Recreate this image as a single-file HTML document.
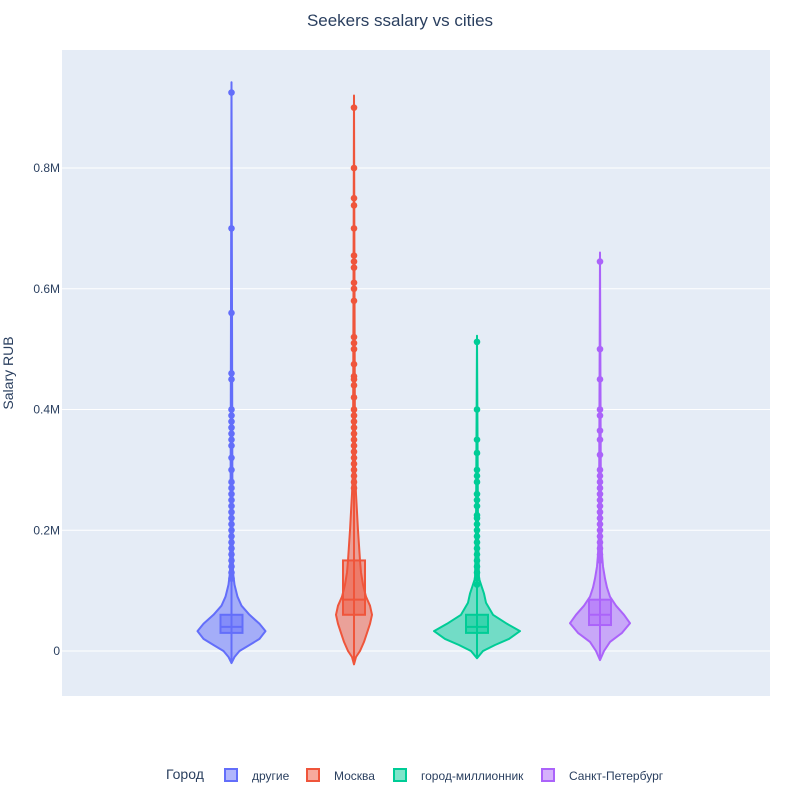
<!DOCTYPE html>
<html><head><meta charset="utf-8"><style>
body{margin:0;background:#fff;font-family:"Liberation Sans","DejaVu Sans",sans-serif}
svg text{font-family:"Liberation Sans","DejaVu Sans",sans-serif}
</style></head><body>
<svg id="chart" width="800" height="800">
<rect x="0" y="0" width="800" height="800" fill="#fff"/>
<rect x="62" y="50" width="708" height="646" fill="#E5ECF6"/>
<text x="400" y="26" text-anchor="middle" font-size="17" fill="#2a3f5f">Seekers ssalary vs cities</text>
<text x="13" y="373" text-anchor="middle" font-size="14" fill="#2a3f5f" transform="rotate(-90 13 373)">Salary RUB</text>
<g id="grid"></g><g id="marks"></g>
<g>
<text x="166" y="779" font-size="14" fill="#2a3f5f">Город</text>
<g id="legend"></g></g>
</svg>
<script>
const categories=["другие","Москва","город-миллионник","Санкт-Петербург"];
const colors=["#636efa","#EF553B","#00cc96","#ab63fa"];
const centers=[231.5,354,477,600];
const yTicks=[0,200,400,600,800];
const yTickLabels=["0","0.2M","0.4M","0.6M","0.8M"];
// quartiles (thousands RUB)
const q1=[30,60,30,43];
const med=[40,85,40,60];
const q3=[60,150,60,85];
const maxV=[942,920,522,660];
// density profile: [value, relative width]
const dens0=[[-20,0],[-10,3],[0,8],[10,18],[20,28],[33,34],[45,28],[60,18],[75,10],[90,6],[110,3],[130,1.5],[200,1],[942,0]];
const dens1=[[-22,0],[-10,2],[0,6],[15,10],[30,13],[45,16],[60,18],[75,16],[90,12],[110,9],[130,7],[150,6],[175,5],[200,4],[230,3],[260,2],[300,1],[920,0]];
const dens2=[[-12,0],[0,6],[10,18],[20,32],[33,43],[45,30],[60,16],[80,9],[95,7],[105,5],[120,2],[200,1],[522,0]];
const dens3=[[-15,0],[0,4],[15,10],[30,22],[46,30],[60,24],[75,16],[90,10],[105,7],[120,5],[140,3],[160,2],[200,1],[660,0]];
const densities=[dens0,dens1,dens2,dens3];
const pts0=[925,700,560,460,450,400,390,380,370,360,350,340,320,300,280,270,260,250,240,230,220,210,200,190,180,170,160,150,140,130,120];
const pts1=[900,800,750,738,700,655,645,635,610,600,580,520,510,500,475,455,450,440,420,400,390,380,370,360,350,340,330,320,310,300,290,280,270];
const pts2=[512,400,350,328,300,290,280,260,250,240,225,220,210,200,190,180,170,160,150,140,130,120,110];
const pts3=[645,500,450,400,390,365,350,325,300,290,280,270,260,250,240,230,220,210,200,190,180,170,160,150];
const points=[pts0,pts1,pts2,pts3];
const y=v=>651-v*(651-168)/800;
const NS="http://www.w3.org/2000/svg";
function mk(tag,attrs,parent){const e=document.createElementNS(NS,tag);for(const k in attrs)e.setAttribute(k,attrs[k]);parent.appendChild(e);return e;}
const grid=document.getElementById("grid"),marks=document.getElementById("marks"),svg=document.getElementById("chart");
yTicks.forEach((t,i)=>{
 const l=mk("line",{x1:62,x2:770,y1:y(t),y2:y(t),stroke:"#fff","stroke-width":1},grid);
 
 
 const tx=mk("text",{x:60,y:y(t)+4,"text-anchor":"end","font-size":12,fill:"#2a3f5f"},grid);
 tx.textContent=yTickLabels[i];
 
 
});
categories.forEach((c,i)=>{
 const g=mk("g",{},marks);
 
 
 const cx=centers[i],col=colors[i],d=densities[i];
 const right=d.map(p=>[cx+p[1],y(p[0])]),left=d.slice().reverse().map(p=>[cx-p[1],y(p[0])]);
 const all=right.concat(left);
 let path="M"+all.map(p=>p[0].toFixed(1)+","+p[1].toFixed(1)).join(" L")+"Z";
 const v=mk("path",{d:path,fill:col,"fill-opacity":0.5,stroke:col,"stroke-width":2,"stroke-linejoin":"round"},g);
 
 
 const w=mk("line",{x1:cx,x2:cx,y1:y(d[0][0]),y2:y(maxV[i]),stroke:col,"stroke-width":2},g);
 
 
 const b=mk("rect",{x:cx-11,y:y(q3[i]),width:22,height:y(q1[i])-y(q3[i]),fill:col,"fill-opacity":0.5,stroke:col,"stroke-width":2},g);
 
 
 const m=mk("line",{x1:cx-11,x2:cx+11,y1:y(med[i]),y2:y(med[i]),stroke:col,"stroke-width":2},g);
 
 
 points[i].forEach(pv=>{
  const p=mk("circle",{cx:cx,cy:y(pv),r:3.3,fill:col},g);
  
  
 });
});
const legX=[231,313,400,548];
const leg=document.getElementById("legend");
categories.forEach((c,i)=>{
 const r=mk("rect",{x:legX[i]-6,y:769,width:12,height:12,fill:colors[i],"fill-opacity":0.5,stroke:colors[i],"stroke-width":2},leg);
 
 
 const t=mk("text",{x:legX[i]+21,y:780,"font-size":12,fill:"#2a3f5f"},leg);
 t.textContent=c;
 
 
});
</script>
</body></html>
